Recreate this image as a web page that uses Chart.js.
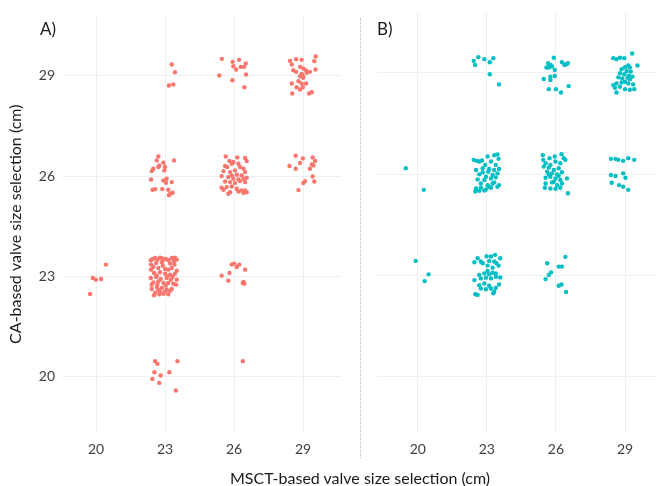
<!DOCTYPE html>
<html><head><meta charset="utf-8">
<script src="https://cdn.jsdelivr.net/npm/chart.js@4"></script>
<style>
html,body{margin:0;padding:0;background:#fff;}
#wrap{position:relative;width:659px;height:486px;overflow:hidden;font-family:Lato, sans-serif;}
#cA{position:absolute;left:0;top:0;}
#cB{position:absolute;left:360px;top:0;}
.lbl{position:absolute;font-size:17px;color:#1a1a1a;line-height:20px;top:19px;}
#sep{position:absolute;left:360px;top:18px;height:440px;border-left:1px dotted #b8b8b8;}
#xt{position:absolute;left:0;width:720px;text-align:center;top:469px;font-size:16px;line-height:18px;color:#1a1a1a;}
</style>
</head><body>
<div id="wrap">
<canvas id="cA" width="355" height="486"></canvas>
<canvas id="cB" width="299" height="486"></canvas>
<div id="sep"></div>
<div class="lbl" style="left:40px">A)</div>
<div class="lbl" style="left:377px">B)</div>
<div id="xt">MSCT-based valve size selection (cm)</div>
</div>
<script>
// tick values / labels (cm)
const xTickValues = [20, 23, 26, 29];
const yTickValues = [20, 23, 26, 29];

// Panel A (red): jittered points [MSCT, CA]
const panelA_row29 = [
 [23.29,29.34],[23.43,29.11],[23.17,28.71],[23.36,28.74],
 [25.47,29.51],[25.94,29.42],[26.22,29.48],[26.51,29.37],[25.97,29.29],[26.09,29.19],[26.29,29.27],[26.43,29.27],[25.36,29.01],[25.93,28.87],[26.52,29.04],[26.45,28.66],
 [28.43,29.45],[28.70,29.50],[28.94,29.48],[29.55,29.58],[29.49,29.44],[28.51,29.34],[28.58,29.17],[28.70,29.12],[28.87,29.27],[29.01,29.22],[29.13,29.16],[28.94,29.06],[29.16,29.09],[29.54,29.19],[28.87,28.99],[29.01,28.94],[28.80,28.84],[28.51,28.77],[28.94,28.77],[29.13,28.77],[28.72,28.66],[28.87,28.59],[28.99,28.66],[28.53,28.47],[29.26,28.47],[29.38,28.51],[28.99,29.01],[29.30,29.12]
];
const panelA_row26 = [
 [22.71,26.59],[22.64,26.47],[22.49,26.22],[22.42,26.15],[22.71,26.27],[22.93,26.40],[23.00,26.27],[22.97,26.17],[23.39,26.47],[22.39,25.90],[22.93,25.87],[23.07,25.92],[23.04,25.80],[23.29,25.82],[22.46,25.59],[22.57,25.61],[22.88,25.61],[23.14,25.59],[23.22,25.47],[23.33,25.50],[23.17,25.43],[22.75,26.32],
 [25.64,26.59],[25.80,26.45],[25.97,26.42],[26.14,26.56],[26.48,26.54],[26.55,26.45],[25.90,26.37],[25.61,26.30],[26.19,26.37],[26.26,26.27],[26.41,26.22],[25.54,26.15],[25.83,26.12],[26.04,26.17],[26.48,26.12],[25.90,26.02],[26.12,26.04],[26.33,26.02],[25.46,26.00],[25.75,25.97],[25.97,25.92],[26.19,25.90],[26.41,25.92],[26.55,25.95],[25.61,25.84],[25.83,25.82],[26.04,25.79],[26.26,25.85],[26.48,25.82],[25.46,25.65],[25.68,25.67],[25.90,25.69],[26.12,25.62],[26.33,25.57],[26.55,25.52],[25.54,25.59],[25.83,25.52],[26.41,25.50],[26.48,25.57],[25.75,25.47],[26.19,25.54],[25.71,26.27],
 [28.68,26.61],[28.99,26.53],[29.42,26.56],[29.52,26.45],[28.87,26.39],[28.41,26.30],[28.68,26.22],[29.38,26.35],[29.30,26.22],[29.42,25.99],[29.09,25.85],[29.01,25.79],[28.80,25.58],[29.49,25.84],[29.45,26.32]
];
const panelA_row23 = [
 [20.43,23.35],[19.86,22.95],[19.99,22.90],[20.22,22.92],[19.74,22.47],
 [22.38,23.48],[22.57,23.55],[22.67,23.50],[22.78,23.56],[22.93,23.50],[23.04,23.52],[23.14,23.48],[23.29,23.55],[23.43,23.56],[23.51,23.50],[23.39,23.45],
 [22.39,23.35],[22.61,23.40],[22.86,23.42],[23.22,23.38],[22.39,23.20],[22.71,23.25],[23.00,23.22],[23.14,23.20],[23.29,23.25],[23.51,23.17],
 [22.52,23.10],[22.78,23.12],[23.00,23.08],[23.22,23.05],[23.43,23.08],[22.38,22.95],[22.61,22.98],[22.81,22.92],[23.07,22.95],[23.25,22.90],[23.51,22.90],
 [22.49,22.82],[22.71,22.85],[22.93,22.80],[23.14,22.80],[23.36,22.78],[22.42,22.62],[22.64,22.68],[22.86,22.65],[23.07,22.60],[23.29,22.62],
 [22.57,22.51],[22.78,22.53],[23.00,22.55],[23.22,22.57],[22.52,22.43],[22.75,22.46],[22.93,22.48],
 [22.46,23.52],[22.87,23.54],[23.36,23.52],[22.49,23.28],[22.90,23.32],[23.41,23.35],[22.64,23.02],[23.10,23.00],[23.33,22.98],[22.67,22.75],[23.03,22.72],[23.48,22.75],[22.71,22.60],[23.14,22.46],[22.42,22.75],
 [25.90,23.35],[26.00,23.38],[26.23,23.35],[26.12,23.28],[26.48,23.20],[25.46,23.02],[25.80,23.10],[25.75,22.87],[26.41,22.83],[26.45,22.78],[26.38,22.80]
];
const panelA_row20 = [
 [22.57,20.46],[22.67,20.38],[23.54,20.46],[22.54,20.13],[23.19,20.13],[22.81,20.03],[22.45,19.93],[22.75,19.81],[23.47,19.58],[26.38,20.46]
];

// Panel B (teal): jittered points [MSCT, CA]
const panelB_row29 = [
 [22.43,29.36],[22.63,29.47],[22.89,29.41],[23.13,29.32],[23.28,29.44],[22.49,29.24],[23.13,28.96],[23.53,28.66],
 [25.91,29.45],[25.66,29.29],[25.76,29.24],[25.59,29.16],[25.69,29.16],[25.83,29.19],[25.95,29.09],[26.26,29.32],[26.37,29.24],[26.45,29.26],[26.52,29.29],[25.47,28.82],[25.76,28.89],[25.95,28.91],[25.76,28.79],[25.69,28.52],[26.00,28.52],[26.22,28.42],[26.55,28.61],
 [28.49,29.44],[28.63,29.41],[28.78,29.45],[28.97,29.44],[29.31,29.58],[29.54,29.22],[29.14,29.22],[29.00,29.17],[29.21,29.16],[28.85,29.11],[29.07,29.06],[29.25,29.04],[28.78,28.99],[28.97,28.96],[29.17,28.92],[28.71,28.87],[28.88,28.84],[29.11,28.86],[29.32,28.89],[29.21,28.81],[29.00,28.74],[28.63,28.69],[28.85,28.72],[29.14,28.69],[29.35,28.66],[28.49,28.64],[28.78,28.59],[28.56,28.56],[29.00,28.52],[29.21,28.50],[29.40,28.52],[28.63,28.42]
];
const panelB_row26 = [
 [19.48,26.17],[20.26,25.53],
 [22.43,26.42],[22.56,26.39],[22.67,26.37],[22.79,26.40],[23.03,26.52],[23.32,26.56],[23.46,26.58],[23.18,26.37],[23.51,26.45],[22.53,26.12],[22.82,26.17],[23.10,26.15],[23.32,26.12],[23.53,26.15],[22.67,25.99],[22.96,25.92],[23.25,25.97],[23.46,26.02],[22.60,25.84],[22.89,25.82],[23.18,25.87],[23.39,25.90],[22.74,25.72],[23.03,25.67],[23.32,25.75],[23.53,25.67],[22.53,25.57],[22.74,25.59],[22.96,25.54],[23.18,25.59],[23.46,25.62],[22.50,25.48],[22.67,25.50],[22.89,25.51],[23.10,25.62],[22.82,26.05],[23.39,26.27],[22.93,26.27],[23.06,26.07],[23.25,25.72],
 [25.43,26.56],[25.45,26.42],[25.72,26.47],[25.95,26.52],[26.24,26.59],[26.34,26.47],[25.55,26.32],[25.76,26.27],[25.98,26.37],[26.19,26.32],[26.41,26.42],[25.47,26.22],[25.69,26.19],[25.91,26.12],[26.12,26.17],[25.62,26.07],[25.83,26.02],[26.05,25.99],[26.26,26.05],[25.55,25.89],[25.76,25.92],[25.98,25.87],[26.19,25.82],[26.48,25.87],[25.55,25.72],[25.83,25.75],[26.05,25.67],[26.26,25.72],[25.52,25.59],[25.76,25.57],[25.98,25.56],[26.19,25.59],[26.52,25.43],[25.69,25.99],[25.91,25.77],[26.12,25.95],
 [28.39,26.45],[28.59,26.45],[28.71,26.42],[28.92,26.39],[29.14,26.47],[29.40,26.42],[28.39,25.97],[28.59,25.94],[28.92,26.02],[29.02,25.89],[28.42,25.74],[28.74,25.67],[28.92,25.62],[29.14,25.53]
];
const panelB_row23 = [
 [19.91,23.42],[20.47,23.02],[20.30,22.82],
 [22.46,23.38],[22.60,23.50],[22.74,23.40],[22.82,23.35],[22.99,23.56],[23.18,23.55],[23.36,23.60],[23.10,23.42],[23.32,23.40],[23.42,23.35],[23.58,23.50],[23.51,23.28],[23.25,23.22],[23.03,23.12],[22.89,23.05],[22.67,23.00],[23.10,23.02],[23.39,23.05],[23.58,22.93],[22.46,22.85],[22.74,22.90],[22.96,22.92],[23.18,22.90],[23.39,22.95],[22.67,22.70],[22.89,22.75],[23.10,22.68],[23.53,22.72],[22.74,22.60],[22.96,22.58],[23.18,22.60],[23.39,22.62],[23.32,22.51],[22.50,22.43],[22.60,22.41],[23.25,23.07],[23.03,23.28],[23.28,22.46],
 [25.62,23.35],[26.12,23.25],[26.26,23.25],[26.41,23.54],[25.79,23.08],[25.69,23.00],[25.55,22.88],[26.12,22.68],[26.24,22.72],[26.44,22.50]
];

const RED = '#F8766D';
const TEAL = '#00BFC4';
const FONT = 'Lato, "Open Sans", sans-serif';

function makePanel(canvasId, rows, color, xMin, xMax, yAxisWidth, showY, padRight) {
  const yScale = {
    type: 'linear', min: 18.31, max: 30.81,
    afterBuildTicks: s => { s.ticks = yTickValues.map(v => ({ value: v })); },
    afterFit: s => { s.width = yAxisWidth; },
    grid: { color: '#efefef', lineWidth: 1, drawTicks: false },
    border: { display: false },
    ticks: { display: showY, padding: 7, color: '#404040', font: { family: FONT, size: 14 }, callback: v => String(v) },
    title: { display: showY, text: 'CA-based valve size selection (cm)', color: '#1a1a1a', font: { family: FONT, size: 16 }, padding: { top: 6, bottom: 0 } }
  };
  new Chart(document.getElementById(canvasId), {
    type: 'scatter',
    data: {
      datasets: rows.map(r => ({
        data: r.map(p => ({ x: p[0], y: p[1] })),
        backgroundColor: color, borderWidth: 0, pointRadius: 2.2, pointHoverRadius: 2.2
      }))
    },
    options: {
      responsive: false, animation: false, events: [],
      layout: { padding: { top: 12, right: padRight, left: 0, bottom: 0 } },
      plugins: { legend: { display: false }, tooltip: { enabled: false } },
      scales: {
        x: {
          type: 'linear', min: xMin, max: xMax,
          afterBuildTicks: s => { s.ticks = xTickValues.map(v => ({ value: v })); },
          afterFit: s => { s.height = 53; },
          grid: { color: '#efefef', lineWidth: 1, drawTicks: false },
          border: { display: false },
          ticks: { padding: 8, color: '#404040', font: { family: FONT, size: 14 }, callback: v => String(v) }
        },
        y: yScale
      }
    }
  });
}

makePanel('cA', [panelA_row29, panelA_row26, panelA_row23, panelA_row20], RED, 18.52, 30.65, 62, true, 14);
makePanel('cB', [panelB_row29, panelB_row26, panelB_row23], TEAL, 18.23, 30.38, 17, false, 0);
</script>
</body></html>
